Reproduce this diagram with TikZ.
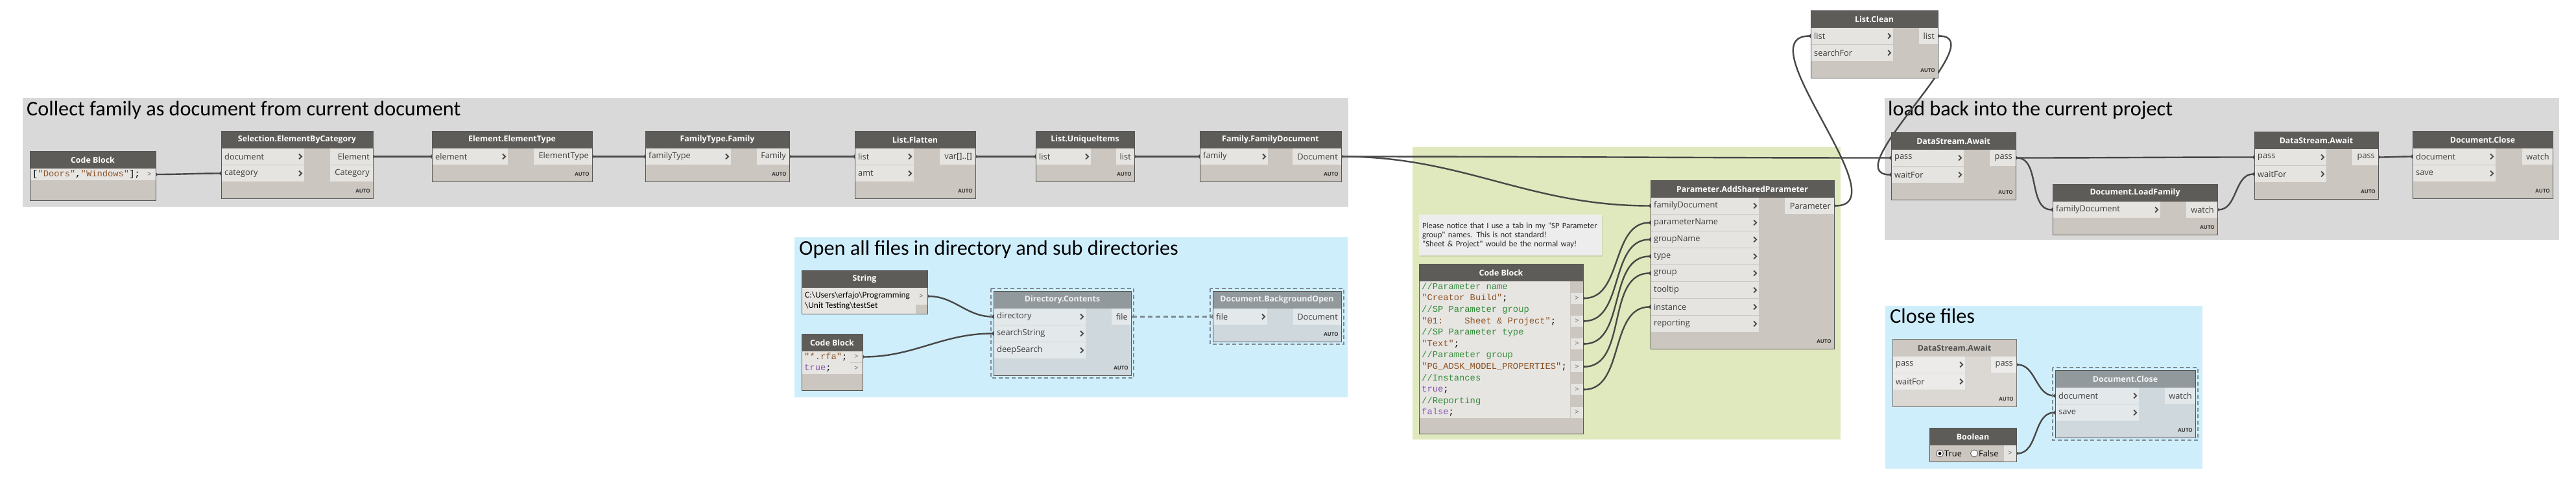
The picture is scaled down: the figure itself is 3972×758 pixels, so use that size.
\documentclass[tikz,border=0pt]{standalone}
\usepackage{fontspec}
\setmainfont{Open Sans}
\setmonofont{Liberation Mono}
\newfontfamily\grpfont{Carlito}
\usetikzlibrary{positioning, calc, arrows.meta, shadows}
\usepackage{xcolor}

\definecolor{canvasc}{RGB}{255,255,255}
\definecolor{grpgrey}{RGB}{217,217,217}
\definecolor{grpblue}{RGB}{207,238,252}
\definecolor{grpgreen}{RGB}{224,233,189}
\definecolor{headc}{RGB}{94,92,89}
\definecolor{bodyc}{RGB}{203,198,191}
\definecolor{rowc}{RGB}{229,228,224}
\definecolor{labc}{RGB}{60,60,60}
\definecolor{chevc}{RGB}{70,70,70}
\definecolor{autoc}{RGB}{55,55,55}
\definecolor{framec}{RGB}{85,85,85}
\definecolor{frzhead}{RGB}{146,153,156}
\definecolor{frztext}{RGB}{240,242,243}
\definecolor{frzbody}{RGB}{206,216,221}
\definecolor{frzrow}{RGB}{227,232,235}
\definecolor{fadhead}{RGB}{205,200,194}
\definecolor{fadtext}{RGB}{80,80,80}
\definecolor{fadbody}{RGB}{219,216,211}
\definecolor{fadrow}{RGB}{236,235,233}
\definecolor{fadframe}{RGB}{120,120,120}
\definecolor{selc}{RGB}{125,138,145}
\definecolor{wirec}{RGB}{72,72,72}
\definecolor{codec}{RGB}{231,229,226}
\definecolor{portc}{RGB}{100,100,100}
\definecolor{cstr}{RGB}{140,84,40}
\definecolor{ccmt}{RGB}{52,140,58}
\definecolor{ckey}{RGB}{130,84,170}
\definecolor{notec}{RGB}{237,237,237}

\pgfdeclarelayer{groups}
\pgfdeclarelayer{wires}
\pgfsetlayers{groups,wires,main}

% name, position, width, rows, title, input width, inputs, output width, outputs
\newcommand{\dynnode}[9]{%
  \node[nbody, minimum width=#3, minimum height={52+26*#4}, anchor=north west] (#1) at (#2) {};
  \node[nhead, minimum width=#3, anchor=north west] (#1-h) at (#1.north west) {#5};
  \foreach \lbl [count=\k] in {#7} {%
    \node[nrow, minimum width=#6, anchor=north west] (#1-i\k) at ($(#1.north west)+(0,1+26*\k)$) {};
    \node[plabel, anchor=west] (#1-il\k) at ($(#1-i\k.west)+(5,0)$) {\lbl};
    \draw[chevln] ($(#1-i\k.east)+(-8,-4)$) -- ++(4,4) -- ++(-4,4);
  }
  \foreach \lbl [count=\k] in {#9} {%
    \node[nrow, minimum width=#8, anchor=north east] (#1-o\k) at ($(#1.north east)+(0,1+26*\k)$) {};
    \node[plabel, anchor=east] (#1-ol\k) at ($(#1-o\k.east)+(-5,0)$) {\lbl};
  }
  \node[autotag, anchor=east] (#1-auto) at ($(#1.south east)+(-4,-11)$) {AUTO};
  \draw[nframe] (#1.north west) rectangle (#1.south east);
}

\begin{document}
\begin{tikzpicture}[x=1pt, y=-1pt,
    grpbox/.style={inner sep=0pt, outer sep=0pt, anchor=north west},
    grptitle/.style={font=\grpfont\fontsize{32.3}{36}\selectfont, text=black, inner sep=0pt, anchor=base west},
    nbody/.style={fill=bodyc, inner sep=0pt, outer sep=0pt},
    nhead/.style={fill=headc, text=white, font=\bfseries\fontsize{12.4}{14}\selectfont, minimum height=27pt, inner sep=0pt, outer sep=0pt},
    nrow/.style={fill=rowc, minimum height=25pt, inner sep=0pt, outer sep=0pt},
    plabel/.style={text=labc, font=\fontsize{12.8}{14}\selectfont, inner sep=0pt},
    chevln/.style={draw=chevc, line width=1.8pt},
    autotag/.style={text=autoc, font=\bfseries\fontsize{8}{9}\selectfont, inner sep=0pt},
    nframe/.style={draw=framec, line width=0.9pt},
    frzlook/.style={nhead/.append style={fill=frzhead, text=frztext}, nbody/.append style={fill=frzbody}, nrow/.append style={fill=frzrow}},
    fadlook/.style={nhead/.append style={fill=fadhead, text=fadtext}, nbody/.append style={fill=fadbody}, nrow/.append style={fill=fadrow}, nframe/.append style={draw=fadframe}},
    selbox/.style={draw=selc, line width=2.6pt, dash pattern=on 6pt off 4pt},
    wire/.style={draw=wirec, line width=2.4pt, {Circle[length=6pt]}-{Circle[length=6pt]}, shorten <=-3pt, shorten >=-3pt},
    frzwire/.style={wire, draw=selc, line width=3pt, dash pattern=on 7pt off 5pt},
    codebg/.style={fill=codec, inner sep=0pt, outer sep=0pt},
    codetxt/.style={font=\ttfamily\fontsize{13.8}{17.6}\selectfont, align=left, inner sep=0pt, text=black},
    cport/.style={fill=rowc, minimum width=19pt, minimum height=17pt, inner sep=0pt, outer sep=0pt, text=portc, font=\fontsize{11}{12}\selectfont},
    strtxt/.style={font=\grpfont\fontsize{13.4}{16}\selectfont, align=left, inner sep=0pt, text=black},
    note/.style={fill=notec, drop shadow={opacity=.2, shadow xshift=1pt, shadow yshift=-2pt}, text width=272pt, align=left, inner xsep=5pt, minimum height=63pt, anchor=north west, text=black!85, font=\grpfont\fontsize{12.7}{14}\selectfont},
    radio/.style={circle, draw=black!70, fill=white, line width=0.8pt, minimum size=11pt, inner sep=0pt}
]
\useasboundingbox (0,0) rectangle (3972,758);

% groups
\begin{pgfonlayer}{groups}
  \fill[canvasc] (0,0) rectangle (3972,758);
  \node[grpbox, fill=grpgrey, minimum width=2044, minimum height=168] (gcollect) at (35,151) {};
  \node[grptitle] (gcollect-t) at ($(gcollect.north west)+(6,27)$) {Collect family as document from current document};
  \node[grpbox, fill=grpblue, minimum width=853, minimum height=247] (gopen) at (1225,366) {};
  \node[grptitle] (gopen-t) at ($(gopen.north west)+(7,27)$) {Open all files in directory and sub directories};
  \node[grpbox, fill=grpgreen, minimum width=660, minimum height=451] (gparam) at (2178,227) {};
  \node[grpbox, fill=grpgrey, minimum width=1040, minimum height=219] (gload) at (2906,151) {};
  \node[grptitle] (gload-t) at ($(gload.north west)+(5,27)$) {load back into the current project};
  \node[grpbox, fill=grpblue, minimum width=489, minimum height=251] (gclose) at (2907,472) {};
  \node[grptitle] (gclose-t) at ($(gclose.north west)+(7,26)$) {Close files};
\end{pgfonlayer}

% collect family
\node[nbody, minimum width=194, minimum height=76, anchor=north west] (cbA) at (46,233) {};
\node[nhead, minimum width=194, anchor=north west] (cbA-h) at (cbA.north west) {Code Block};
\node[codebg, minimum width=175, minimum height=18, anchor=north west] (cbA-code) at (cbA-h.south west) {};
\node[codetxt, anchor=west] (cbA-txt) at ($(cbA-code.west)+(4,0)$) {{[}{\color{cstr}"Doors"},{\color{cstr}"Windows"}];};
\node[cport, minimum height=18, anchor=north east] (cbA-p1) at (cbA-h.south east) {>};
\draw[nframe] (cbA.north west) rectangle (cbA.south east);

\dynnode{sel}{341,202}{234}{2}{Selection.ElementByCategory}{128}{document,category}{66}{Element,Category}
\dynnode{etype}{666,202}{247}{1}{Element.ElementType}{117}{element}{90}{ElementType}
\dynnode{ftfam}{995,202}{222}{1}{FamilyType.Family}{132}{familyType}{50}{Family}
\dynnode{flat}{1318,202}{186}{2}{List.Flatten}{91}{list,amt}{55}{var[]..[]}
\dynnode{uniq}{1597,202}{152}{1}{List.UniqueItems}{85}{list}{28}{list}
\dynnode{famdoc}{1850,202}{218}{1}{Family.FamilyDocument}{105}{family}{75}{Document}

% open files
\node[nbody, minimum width=194, minimum height=67, anchor=north west] (str) at (1236,417) {};
\node[nhead, minimum width=194, anchor=north west] (str-h) at (str.north west) {String};
\node[codebg, minimum width=176, minimum height=40, anchor=north west] (str-box) at (str-h.south west) {};
\node[strtxt, anchor=north west] (str-txt) at (1241,450) {C:\textbackslash Users\textbackslash erfajo\textbackslash Programming\\\textbackslash Unit Testing\textbackslash testSet};
\node[cport, minimum height=26, anchor=north east] (str-p) at (str-h.south east) {>};
\draw[nframe] (str.north west) rectangle (str.south east);

\node[nbody, minimum width=94, minimum height=87, anchor=north west] (cbB) at (1236,515) {};
\node[nhead, minimum width=94, anchor=north west] (cbB-h) at (cbB.north west) {Code Block};
\node[codebg, minimum width=75, minimum height=35.2, anchor=north west] (cbB-code) at (cbB-h.south west) {};
\node[codetxt, anchor=north west] (cbB-txt) at ($(cbB-code.north west)+(4,2)$) {{\color{cstr}"*.rfa"};\\{\color{ckey}true};};
\node[cport, anchor=north east] (cbB-p1) at (cbB-h.south east) {>};
\node[cport, anchor=north east] (cbB-p2) at ($(cbB-h.south east)+(0,17.6)$) {>};
\draw[nframe] (cbB.north west) rectangle (cbB.south east);

\begin{scope}[frzlook]
  \dynnode{dircont}{1532,449}{212}{3}{Directory.Contents}{142}{directory,searchString,deepSearch}{30}{file}
  \dynnode{bgopen}{1870,449}{198}{1}{Document.BackgroundOpen}{84}{file}{74}{Document}
\end{scope}
\draw[selbox] ($(dircont.north west)+(-4,-4)$) rectangle ($(dircont.south east)+(4,4)$);
\draw[selbox] ($(bgopen.north west)+(-4,-4)$) rectangle ($(bgopen.south east)+(4,4)$);

% shared parameter
\node[note] (note) at (2188,331) {Please notice that I use a tab in my "SP Parameter\\group" names. This is not standard!\\"Sheet \& Project" would be the normal way!};

\node[nbody, minimum width=253, minimum height=262, anchor=north west] (cbC) at (2188,407) {};
\node[nhead, minimum width=253, anchor=north west] (cbC-h) at (cbC.north west) {Code Block};
\node[codebg, minimum width=233, minimum height=211.2, anchor=north west] (cbC-code) at (cbC-h.south west) {};
\node[codetxt, anchor=north west] (cbC-txt) at ($(cbC-code.north west)+(4,2)$) {%
{\color{ccmt}//Parameter name}\\
{\color{cstr}"Creator Build"};\\
{\color{ccmt}//SP Parameter group}\\
{\color{cstr}"01:\ \ \ \ Sheet \& Project"};\\
{\color{ccmt}//SP Parameter type}\\
{\color{cstr}"Text"};\\
{\color{ccmt}//Parameter group}\\
{\color{cstr}"PG\_ADSK\_MODEL\_PROPERTIES"};\\
{\color{ccmt}//Instances}\\
{\color{ckey}true};\\
{\color{ccmt}//Reporting}\\
{\color{ckey}false};};
\foreach \k in {1,...,6}
  \node[cport, anchor=north east] (cbC-p\k) at ($(cbC-h.south east)+(0,35.2*\k-17.6)$) {>};
\draw[nframe] (cbC.north west) rectangle (cbC.south east);

\dynnode{addpar}{2545,278}{283}{8}{Parameter.AddSharedParameter}{167}{familyDocument,parameterName,groupName,type,group,tooltip,instance,reporting}{76}{Parameter}
\dynnode{clean}{2792,16}{196}{2}{List.Clean}{127}{list,searchFor}{29}{list}

% load back
\dynnode{await1}{2916,204}{192}{2}{DataStream.Await}{112}{pass,waitFor}{40}{pass}
\dynnode{loadfam}{3165,284}{254}{1}{Document.LoadFamily}{166}{familyDocument}{48}{watch}
\dynnode{await2}{3476,203}{191}{2}{DataStream.Await}{111}{pass,waitFor}{40}{pass}
\dynnode{close1}{3720,202}{216}{2}{Document.Close}{128}{document,save}{47}{watch}

% close files
\begin{scope}[fadlook]
  \dynnode{await3}{2918,523}{191}{2}{DataStream.Await}{112}{pass,waitFor}{39}{pass}
\end{scope}
\begin{scope}[frzlook]
  \dynnode{close2}{3169,571}{216}{2}{Document.Close}{129}{document,save}{47}{watch}
\end{scope}
\draw[selbox] ($(close2.north west)+(-4,-4)$) rectangle ($(close2.south east)+(4,4)$);

\node[nbody, minimum width=134, minimum height=52, anchor=north west] (bool) at (2975,660) {};
\node[nhead, minimum width=134, anchor=north west] (bool-h) at (bool.north west) {Boolean};
\node[cport, minimum height=25, anchor=north east] (bool-p) at (bool-h.south east) {>};
\node[radio] (bool-rt) at (2991,699.5) {};
\node[circle, fill=black, minimum size=5pt, inner sep=0pt] (bool-dot) at (bool-rt) {};
\node[plabel, anchor=west, text=black] (bool-lt) at (2998,699.5) {True};
\node[radio] (bool-rf) at (3044,699.5) {};
\node[plabel, anchor=west, text=black] (bool-lf) at (3051,699.5) {False};
\draw[nframe] (bool.north west) rectangle (bool.south east);

% wires
\begin{pgfonlayer}{wires}
  \draw[wire] (cbA-p1.east) to[out=0,in=180] (sel-i2.west);
  \draw[wire] (sel-o1.east) to[out=0,in=180] (etype-i1.west);
  \draw[wire] (etype-o1.east) to[out=0,in=180] (ftfam-i1.west);
  \draw[wire] (ftfam-o1.east) to[out=0,in=180] (flat-i1.west);
  \draw[wire] (flat-o1.east) to[out=0,in=180] (uniq-i1.west);
  \draw[wire] (uniq-o1.east) to[out=0,in=180] (famdoc-i1.west);
  \draw[wire] (famdoc-o1.east) to[out=0,in=180] (addpar-i1.west);
  \draw[wire] (famdoc-o1.east) to[out=0,in=180] (await1-i1.west);
  \draw[wire] (str-p.east) to[out=0,in=180] (dircont-i1.west);
  \draw[wire] (cbB-p1.east) to[out=0,in=180] (dircont-i2.west);
  \draw[frzwire] (dircont-o1.east) to[out=0,in=180] (bgopen-i1.west);
  \foreach \p/\q in {1/2,2/3,3/4,4/5,5/7}
    \draw[wire] (cbC-p\p.east) to[out=0,in=180] (addpar-i\q.west);
  \draw[wire] (addpar-o1.east) to[out=0,in=180] (clean-i1.west);
  \draw[wire] (clean-o1.east) to[out=0,in=180] (await1-i2.west);
  \draw[wire] (await1-o1.east) to[out=0,in=180] (loadfam-i1.west);
  \draw[wire] (await1-o1.east) to[out=0,in=180] (await2-i1.west);
  \draw[wire] (loadfam-o1.east) to[out=0,in=180] (await2-i2.west);
  \draw[wire] (await2-o1.east) to[out=0,in=180] (close1-i1.west);
  \draw[wire] (await3-o1.east) to[out=0,in=180] (close2-i1.west);
  \draw[wire] (bool-p.east) to[out=0,in=180] (close2-i2.west);
\end{pgfonlayer}
\end{tikzpicture}
\end{document}
